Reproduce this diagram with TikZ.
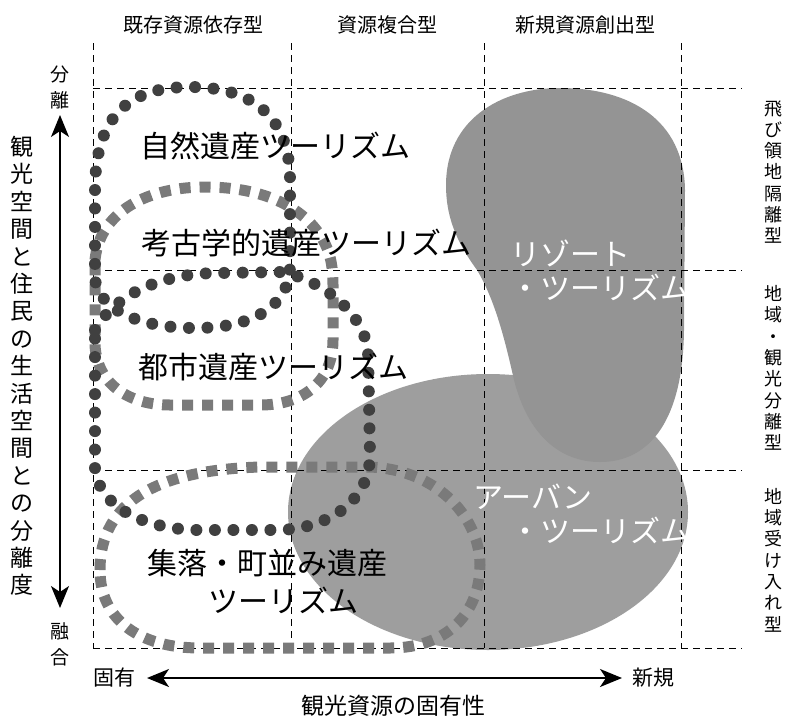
\documentclass[tikz,border=0pt]{standalone}
\usepackage{fontspec}
\setmainfont{Noto Sans CJK JP}
\usetikzlibrary{arrows.meta}
\begin{document}
\begin{tikzpicture}[x=1pt,y=-1pt,
  gridline/.style={black, line width=0.9pt, dash pattern=on 7pt off 5pt},
  rdots/.style={black!75, line width=12pt, line cap=round, dash pattern=on 0pt off 18.5pt},
  sdots/.style={black!52, line width=11pt, line cap=butt, dash pattern=on 11pt off 9pt},
  blob/.style={fill=black!38, draw=none},
  big/.style={font=\fontsize{30}{34}\selectfont, inner sep=0pt},
  onblob/.style={big, text=white},
  head/.style={font=\fontsize{20}{22}\selectfont, inner sep=0pt},
  side/.style={font=\fontsize{18}{21.3}\selectfont, inner sep=0pt, align=center},
  vtitle/.style={font=\fontsize{23}{27.4}\selectfont, inner sep=0pt, align=center},
  axlab/.style={font=\fontsize{19}{26}\selectfont, inner sep=0pt, align=center},
  botlab/.style={font=\fontsize{21}{24}\selectfont, inner sep=0pt},
  axisline/.style={line width=1.8pt, {Stealth[length=22pt,width=18pt,inset=6pt]}-{Stealth[length=22pt,width=18pt,inset=6pt]}}
]
\useasboundingbox (0,0) rectangle (789,718);

% gray areas
\fill[blob] (488,512) ellipse [x radius=200, y radius=138];
\fill[blob, fill=black!42] (446,185) .. controls (446,120) and (500,88) .. (560,88)
  .. controls (630,88) and (684,120) .. (685,190) -- (684,330)
  .. controls (683,420) and (650,462) .. (600,462)
  .. controls (560,462) and (528,435) .. (514,380)
  .. controls (505,340) and (495,300) .. (477,270)
  .. controls (455,240) and (446,215) .. (446,185) -- cycle;

% grid
\foreach \gx in {93,291,484,681} \draw[gridline] (\gx,43) -- (\gx,648);
\foreach \gy in {88,270,470,648} \draw[gridline] (93,\gy) -- (742,\gy);

% loops
\draw[sdots] (95,260) .. controls (100,210) and (150,187) .. (205,187)
  .. controls (260,187) and (300,205) .. (320,235)
  .. controls (330,250) and (333,265) .. (333,285) -- (333,340)
  .. controls (333,380) and (305,405) .. (260,405) -- (170,405)
  .. controls (130,405) and (97,385) .. (95,345) -- cycle;
\draw[sdots] (100,570) .. controls (100,500) and (160,470) .. (260,467) -- (370,467)
  .. controls (440,470) and (480,520) .. (480,565)
  .. controls (480,610) and (450,648) .. (390,648) -- (200,648)
  .. controls (140,648) and (100,620) .. (100,570) -- cycle;
\draw[rdots] (95,190) .. controls (95,110) and (135,87) .. (190,87)
  .. controls (250,87) and (290,115) .. (290,180) -- (290,265)
  .. controls (290,305) and (255,328) .. (195,328)
  .. controls (140,328) and (100,310) .. (95,280) -- cycle;
\draw[rdots] (95,330) .. controls (115,295) and (160,273) .. (220,273) -- (282,272)
  .. controls (320,280) and (362,310) .. (368,350) -- (370,455)
  .. controls (370,500) and (330,528) .. (280,530) -- (195,530)
  .. controls (140,528) and (100,505) .. (95,470) -- cycle;

% headers
\node[head] (h1) at (193,25) {既存資源依存型};
\node[head] (h2) at (387,25) {資源複合型};
\node[head] (h3) at (585,25) {新規資源創出型};

% right labels
\node[side] (r1) at (773,172) {飛\\び\\領\\地\\隔\\離\\型};
\node[side] (r2) at (773,368) {地\\域\\・\\観\\光\\分\\離\\型};
\node[side] (r3) at (773,560) {地\\域\\受\\け\\入\\れ\\型};

% vertical axis
\node[vtitle] (ytitle) at (22,366) {観\\光\\空\\間\\と\\住\\民\\の\\生\\活\\空\\間\\と\\の\\分\\離\\度};
\node[axlab] (sep) at (60,87) {分\\離};
\node[axlab] (fus) at (60,644) {融\\合};
\coordinate (vt) at (60,115);
\coordinate (vb) at (60,608);
\draw[axisline] (vt) -- (vb);

% horizontal axis
\node[botlab] (own) at (114,678) {固有};
\node[botlab] (new) at (653,678) {新規};
\coordinate (hl) at (147,678);
\coordinate (hr) at (622,678);
\draw[axisline] (hl) -- (hr);
\node[font=\fontsize{23}{26}\selectfont, inner sep=0pt] (xtitle) at (393,706) {観光資源の固有性};

% main labels
\node[big] (l1) at (275,146) {自然遺産ツーリズム};
\node[big] (l2) at (306,243) {考古学的遺産ツーリズム};
\node[big] (l3) at (273,367) {都市遺産ツーリズム};
\node[big] (l4a) at (267,563) {集落・町並み遺産};
\node[big] (l4b) at (283,600) {ツーリズム};
\node[onblob] (l5a) at (570,253) {リゾート};
\node[onblob] (l5b) at (600,287) {・ツーリズム};
\node[onblob] (l6a) at (533,497) {アーバン};
\node[onblob] (l6b) at (600,530) {・ツーリズム};
\end{tikzpicture}
\end{document}
